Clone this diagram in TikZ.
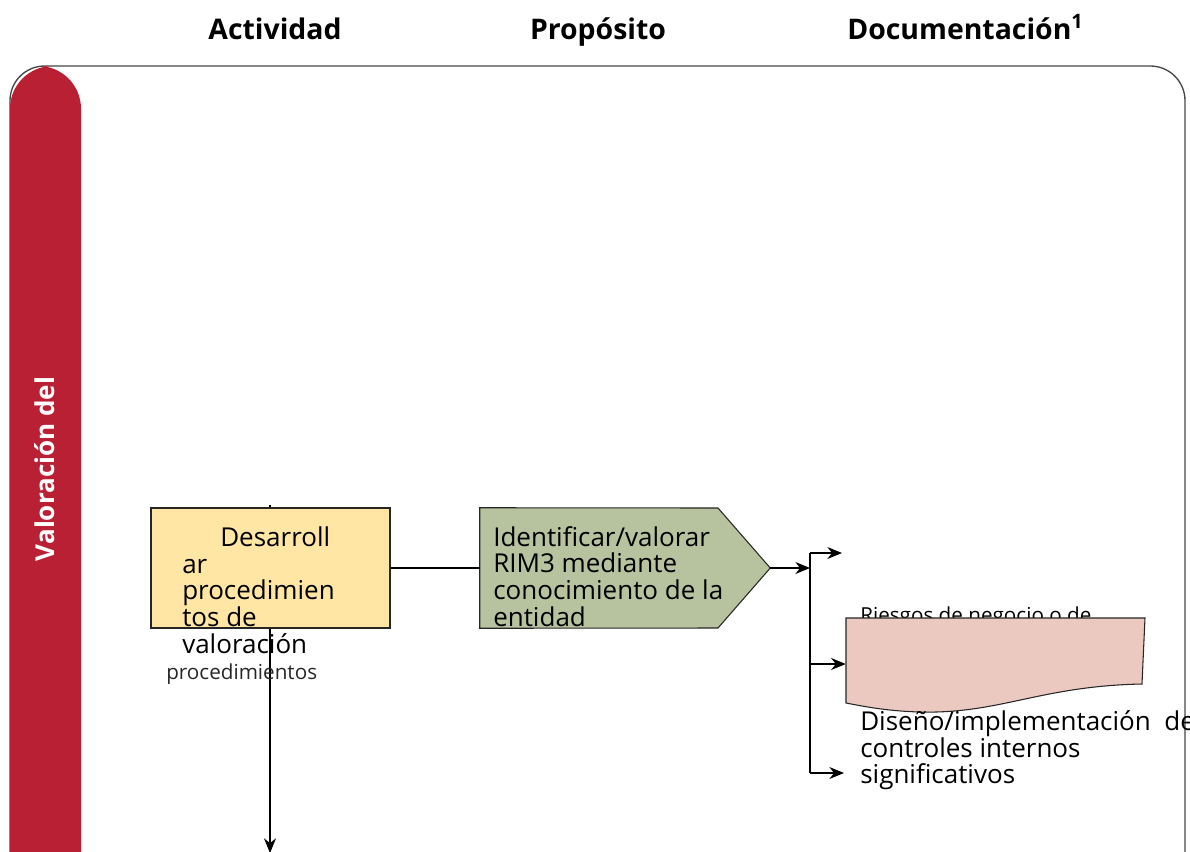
\documentclass[tikz,border=0pt]{standalone}
\usepackage{fontspec}
\setmainfont{Open Sans}
\usetikzlibrary{arrows.meta}
\definecolor{barred}{RGB}{185,32,52}
\definecolor{boxyellow}{RGB}{255,230,164}
\definecolor{boxgreen}{RGB}{183,194,158}
\definecolor{boxpink}{RGB}{235,201,192}
\definecolor{framegray}{RGB}{70,70,70}
\tikzset{
  header/.style={font={\fontsize{21.3}{21}\selectfont\bfseries}, anchor=base, inner sep=0pt},
  bodytxt/.style={font={\fontsize{19.5}{20}\selectfont}, align=left, anchor=base west, inner sep=0pt},
  smalltxt/.style={font={\fontsize{15.5}{16}\selectfont}, anchor=base west, inner sep=0pt},
  conn/.style={draw=black, line width=0.8pt},
  arr/.style={conn, -{Stealth[length=11pt,width=9pt]}},
  shapeline/.style={draw=black!85, line width=0.8pt}
}
\begin{document}
\begin{tikzpicture}[x=0.75pt,y=-0.75pt]
\useasboundingbox (0,0) rectangle (1190,851);
\begin{scope}
\clip (0,0) rectangle (1190,851);
% headers
\node[header] (h1) at (275,39) {Actividad};
\node[header] (h2) at (598,39) {Propósito};
\node[header, anchor=base west] (h3) at (847,39) {Documentación\textsuperscript{1}};
% frame
\draw[draw=framegray, line width=1pt, rounded corners=26] (10,880) -- (10,66) -- (1185,66) -- (1185,880);
% red bar
\fill[barred, rounded corners=32] (10,880) -- (10,66) -- (81,66) -- (81,880);
\node[rotate=90, text=white, font={\fontsize{19.5}{20}\selectfont\bfseries}, inner sep=0pt] (lane) at (45,469) {Valoración del};
% vertical line through activity box
\coordinate (vtop) at (270,505);
\coordinate (vbot) at (270,853);
\draw[arr] (vtop) -- (vbot);
% activity box
\node[draw=black!85, line width=0.8pt, fill=boxyellow, minimum width=179.25pt, minimum height=90pt, inner sep=0pt] (act) at (270.5,568) {};
\node[bodytxt] (acttxt) at (182,653) {\hspace*{28.5pt}Desarroll\\ar\\procedimien\\tos de\\valoración};
\node[smalltxt, text=black!85] (actsub) at (166,679) {procedimientos};
% purpose pentagon
\node[minimum width=217.5pt, minimum height=90pt, inner sep=0pt] (purp) at (625,568) {};
\filldraw[shapeline, fill=boxgreen] (purp.north west) -- (718,508) -- (purp.east) -- (718,628) -- (purp.south west) -- cycle;
\node[bodytxt] (purptxt) at (493,626) {Identificar/valorar\\RIM3 mediante\\conocimiento de la\\entidad};
\draw[conn] (act.east) -- (purp.west);
% bracket
\coordinate (br) at (810,568);
\coordinate (b1) at (810,553);
\coordinate (b2) at (810,664);
\coordinate (b3) at (810,773);
\coordinate (t1) at (842,553);
\coordinate (t3) at (844,773);
\draw[arr] (purp.east) -- (br);
\draw[conn] (b1) -- (b3);
\draw[arr] (b1) -- (t1);
\draw[arr] (b3) -- (t3);
% document shape
\node[smalltxt] (risk) at (860,622) {Riesgos de negocio o de};
\node[minimum width=224.25pt, minimum height=69pt, inner sep=0pt] (doc) at (995.5,664) {};
\filldraw[shapeline, fill=boxpink] (846,618) -- (1145,618) -- (1142,684)
  .. controls (1040,686) and (1000,714) .. (920,712)
  .. controls (885,711) and (862,706) .. (846,703) -- cycle;
\draw[arr] (b2) -- (doc.west);
\node[bodytxt, font={\fontsize{19.5}{19}\selectfont}] (design) at (860,783) {Diseño/implementación\ \ de\\controles internos\\significativos};
\end{scope}
\end{tikzpicture}
\end{document}
